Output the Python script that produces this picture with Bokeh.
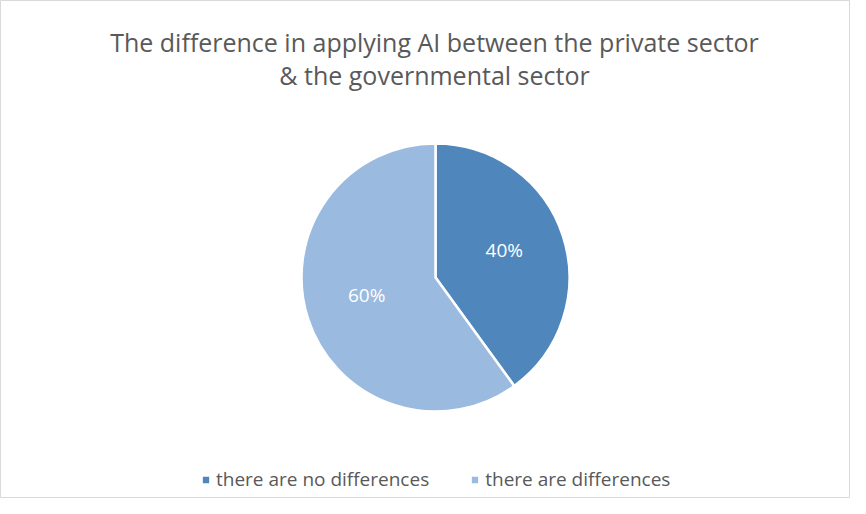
import math
from bokeh.plotting import figure
from bokeh.models import Range1d, Legend, LegendItem
from bokeh.core.properties import value
from bokeh.embed import file_html
from bokeh.resources import INLINE

title_lines = ["The difference in applying AI between the private sector", "& the governmental sector"]
categories = ["there are no differences", "there are differences"]
shares = [40, 60]
colors = ["#4F87BC", "#9ABADF"]

W, H = 850, 498
p = figure(width=W, height=H, output_backend="svg", toolbar_location=None,
           x_range=Range1d(0, W), y_range=Range1d(0, H), min_border=0)
p.axis.visible = False
p.grid.visible = False
p.outline_line_color = "#D9D9D9"
p.outline_line_width = 1
p.background_fill_color = "white"
p.border_fill_color = "white"

cx, cy, r = 435, H - 277, 134
total = sum(shares)
starts, ends, lx, ly, labels = [], [], [], [], []
acc = 0.0
for s in shares:
    a0 = math.pi / 2 - 2 * math.pi * acc / total
    a1 = math.pi / 2 - 2 * math.pi * (acc + s) / total
    starts.append(a1)
    ends.append(a0)
    mid = (a0 + a1) / 2
    lx.append(cx + 0.54 * r * math.cos(mid))
    ly.append(cy + 0.54 * r * math.sin(mid) + 5)
    labels.append(f"{round(100 * s / total)}%")
    acc += s

renderers = []
for i in range(len(shares)):
    rr = p.wedge(x=cx, y=cy, radius=r, start_angle=starts[i], end_angle=ends[i],
                 fill_color=colors[i], line_color="white", line_width=2.5)
    renderers.append(rr)

p.text(x=lx, y=ly, text=labels, text_color="white", text_align="center",
       text_baseline="middle", text_font=value("Open Sans"), text_font_size="19px")

p.text(x=[434, 434], y=[H - 41, H - 74], text=title_lines, text_color="#595959",
       text_align="center", text_baseline="middle", text_font=value("Open Sans"),
       text_font_size="25px")

legend = Legend(items=[LegendItem(label=categories[i], renderers=[renderers[i]]) for i in range(len(shares))],
                orientation="horizontal", location=(200, 6),
                label_text_font="Open Sans", label_text_font_size="19px",
                label_text_color="#595959", glyph_width=11, glyph_height=11,
                spacing=40, border_line_color=None, background_fill_alpha=0,
                margin=0, padding=0, label_standoff=5, label_height=24)
p.add_layout(legend)

open("out.html", "w").write(file_html(p, INLINE))
